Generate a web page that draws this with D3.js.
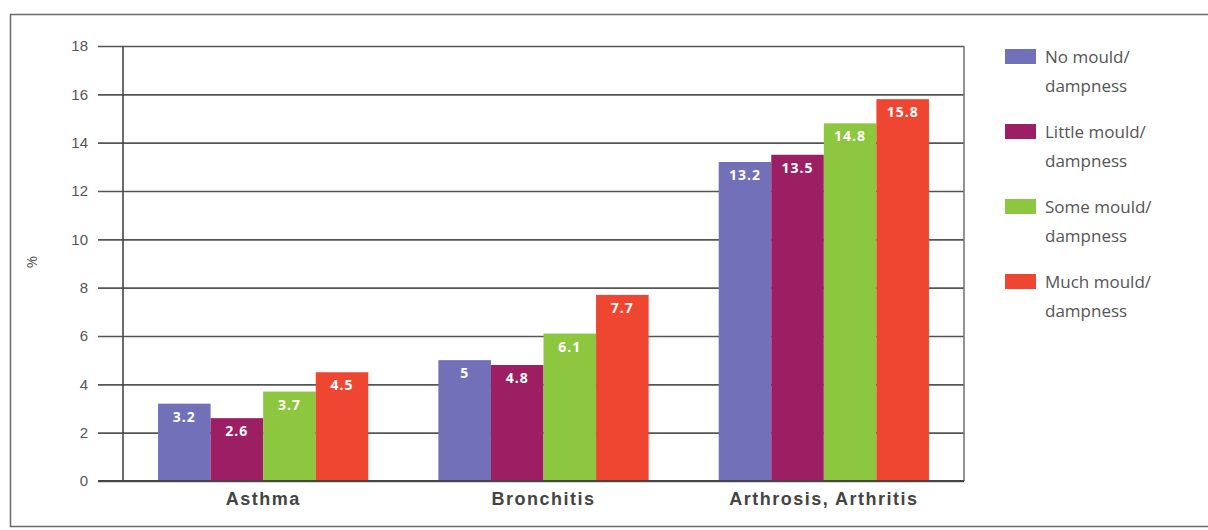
<!DOCTYPE html>
<html>
<head>
<meta charset="utf-8">
<script src="https://cdn.jsdelivr.net/npm/d3@7"></script>
<style>
  body { margin: 0; background: #fff; }
  svg { font-family: "Open Sans", "Noto Sans", sans-serif; }
</style>
</head>
<body>
<svg id="chart" width="1208" height="530"></svg>
<script>
// data
const categories = ['Asthma', 'Bronchitis', 'Arthrosis, Arthritis'];
const seriesNames = ['No mould/ dampness', 'Little mould/ dampness', 'Some mould/ dampness', 'Much mould/ dampness'];
const noMould = [3.2, 5, 13.2];
const littleMould = [2.6, 4.8, 13.5];
const someMould = [3.7, 6.1, 14.8];
const muchMould = [4.5, 7.7, 15.8];
const yTicks = [0, 2, 4, 6, 8, 10, 12, 14, 16, 18];
const colors = ['#7170b8', '#9c1f64', '#8dc63f', '#ef4631'];

const seriesValues = [noMould, littleMould, someMould, muchMould];

const svg = d3.select('#chart');

// outer frame
svg.append('rect')
   .attr('x', 10.5).attr('y', 14.5)
   .attr('width', 1220).attr('height', 512)
   .attr('fill', 'none').attr('stroke', '#6a6a6a').attr('stroke-width', 1.5);

const dims = { left: 123, right: 964, top: 46, bottom: 481, tickOut: 25 };

const x0 = d3.scaleBand()
             .domain(categories)
             .range([dims.left, dims.right])
             .paddingInner(0.25)
             .paddingOuter(0.125);

const x1 = d3.scaleBand()
             .domain(d3.range(seriesNames.length))
             .range([0, x0.bandwidth()]);

const y = d3.scaleLinear()
            .domain([0, 18])
            .range([dims.bottom, dims.top]);

// gridlines + y labels
const yAxis = d3.axisLeft(y)
                .tickValues(yTicks)
                .tickSizeInner(-(dims.right - dims.left))
                .tickSizeOuter(0)
                .tickPadding(0);

const gy = svg.append('g')
   .attr('class', 'axis axis-y')
   .attr('transform', 'translate(' + dims.left + ',0)')
   .call(yAxis);
gy.select('.domain').remove();
gy.selectAll('.tick line')
  .attr('x1', -dims.tickOut)
  .attr('stroke', '#555')
  .attr('stroke-width', 1.6);
gy.selectAll('.tick text')
  .attr('x', -dims.tickOut - 10)
  .attr('fill', '#555')
  .attr('font-size', 15);

// vertical axis line + right border
svg.append('line')
   .attr('x1', dims.left).attr('x2', dims.left)
   .attr('y1', dims.top).attr('y2', dims.bottom)
   .attr('stroke', '#444').attr('stroke-width', 1.6);
svg.append('line')
   .attr('x1', dims.right).attr('x2', dims.right)
   .attr('y1', dims.top).attr('y2', dims.bottom)
   .attr('stroke', '#777').attr('stroke-width', 1.6);

// y title
svg.append('text')
   .attr('transform', 'translate(37,262) rotate(-90)')
   .attr('text-anchor', 'middle')
   .attr('fill', '#555')
   .attr('font-size', 15)
   .text('%');

// bars
const groups = svg.append('g')
   .selectAll('g')
   .data(categories)
   .enter()
   .append('g')
   .attr('transform', function(d) { return 'translate(' + x0(d) + ',0)'; });

groups.selectAll('rect')
   .data(function(d, ci) { return seriesValues.map(function(s, si) { return { si: si, v: s[ci] }; }); })
   .enter()
   .append('rect')
   .attr('x', function(d) { return x1(d.si); })
   .attr('width', x1.bandwidth())
   .attr('y', function(d) { return y(d.v); })
   .attr('height', function(d) { return y(0) - y(d.v); })
   .attr('fill', function(d) { return colors[d.si]; });

groups.selectAll('text')
   .data(function(d, ci) { return seriesValues.map(function(s, si) { return { si: si, v: s[ci] }; }); })
   .enter()
   .append('text')
   .attr('x', function(d) { return x1(d.si) + x1.bandwidth() / 2; })
   .attr('y', function(d) { return y(d.v) + 18; })
   .attr('text-anchor', 'middle')
   .attr('fill', '#fff')
   .attr('font-weight', 'bold')
   .attr('font-size', 14)
   .attr('letter-spacing', 1)
   .text(function(d) { return d.v; });

// x axis
const xAxis = d3.axisBottom(x0).tickSize(0).tickPadding(11);
const gx = svg.append('g')
   .attr('class', 'axis axis-x')
   .attr('transform', 'translate(0,' + dims.bottom + ')')
   .call(xAxis);
gx.select('.domain').remove();
gx.selectAll('.tick text')
  .attr('fill', '#444')
  .attr('font-weight', 'bold')
  .attr('font-size', 18)
  .attr('letter-spacing', 1.5);

// baseline
svg.append('line')
   .attr('x1', dims.left - dims.tickOut).attr('x2', dims.right)
   .attr('y1', dims.bottom).attr('y2', dims.bottom)
   .attr('stroke', '#444').attr('stroke-width', 1.8);

// legend
const legend = svg.append('g')
   .selectAll('g')
   .data(seriesNames)
   .enter()
   .append('g')
   .attr('transform', function(d, i) { return 'translate(1005,' + (49 + i * 75) + ')'; });

legend.append('rect')
   .attr('width', 31).attr('height', 15)
   .attr('fill', function(d, i) { return colors[i]; });

legend.append('text')
   .attr('x', 40)
   .attr('y', 14)
   .attr('fill', '#555')
   .attr('font-size', 17)
   .selectAll('tspan')
   .data(function(d) { return d.split('/ ').map(function(s, i) { return i === 0 ? s + '/' : s; }); })
   .enter()
   .append('tspan')
   .attr('x', 40)
   .attr('dy', function(d, i) { return i === 0 ? 0 : 29; })
   .text(function(d) { return d; });
</script>
</body>
</html>
